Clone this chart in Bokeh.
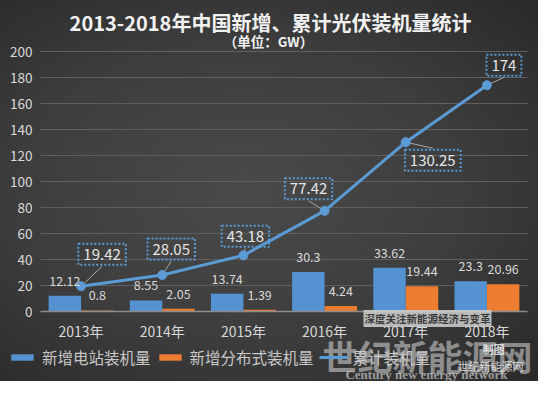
from bokeh.plotting import figure
from bokeh.models import (ColumnDataSource, LabelSet, Label, Legend, LegendItem,
                          FixedTicker, Range1d)
from bokeh.core.properties import value
from bokeh.transform import dodge
from bokeh.embed import file_html
from bokeh.resources import INLINE

# ---- data ----
years = ["2013年", "2014年", "2015年", "2016年", "2017年", "2018年"]
new_station = [12.12, 8.55, 13.74, 30.3, 33.62, 23.3]
new_distributed = [0.8, 2.05, 1.39, 4.24, 19.44, 20.96]
cumulative = [19.42, 28.05, 43.18, 77.42, 130.25, 174]
y_ticks = [0, 20, 40, 60, 80, 100, 120, 140, 160, 180, 200]

# ---- styling / layout ----
FONT = "Noto Sans CJK SC"
TXT = "#d9d9d9"
BLUE = "#5b9bd5"
BAR_BLUE = "#5592d2"
ORANGE = "#ed7d31"
W, H = 538, 381
# plot area inside the canvas (px from top-left)
PL, PR, PT, PB = 40, 527, 51, 311
cum_dx = [21, 9, 2, -16, 27, 17]
cum_dy = [32, 26, 19, 22, -18, 20]
BOX_HALF_H = 12

n = len(years)
xs = list(range(n))
x_lo, x_hi = -0.5, n - 0.5
y_lo, y_hi = y_ticks[0], y_ticks[-1]
px_x = (PR - PL) / (x_hi - x_lo)
px_y = (PB - PT) / (y_hi - y_lo)

src = ColumnDataSource(dict(
    x=xs,
    station=new_station,
    dist=new_distributed,
    cum=cumulative,
    station_txt=[f"{v:g}" for v in new_station],
    dist_txt=[f"{v:g}" for v in new_distributed],
))

p = figure(width=W, height=H,
           x_range=Range1d(x_lo - PL / px_x, x_hi + (W - PR) / px_x),
           y_range=Range1d(y_lo - (H - PB) / px_y, y_hi + PT / px_y),
           output_backend="svg", toolbar_location=None,
           min_border_left=0, min_border_right=0,
           min_border_top=0, min_border_bottom=0)
p.styles = {"background": "radial-gradient(ellipse 75% 70% at 45% 50%, #4a4a4a 0%, #3d3d3d 55%, #2a2a2a 100%)"}
p.border_fill_alpha = 0
p.background_fill_alpha = 0
p.outline_line_color = None

# axes placed inside the frame
p.yaxis.fixed_location = x_lo
p.yaxis.ticker = FixedTicker(ticks=y_ticks)
p.yaxis.axis_line_color = None
p.yaxis.major_tick_line_color = None
p.yaxis.minor_tick_line_color = None
p.yaxis.major_tick_out = 0
p.yaxis.major_tick_in = 0
p.yaxis.major_label_standoff = 8
p.yaxis.major_label_text_color = TXT
p.yaxis.major_label_text_font = FONT
p.yaxis.major_label_text_font_size = "13.5px"

p.xaxis.fixed_location = y_lo
p.xaxis.bounds = (x_lo, x_hi)
p.xaxis.ticker = FixedTicker(ticks=xs)
p.xaxis.major_label_overrides = {i: y for i, y in zip(xs, years)}
p.xaxis.axis_line_color = "#8c8c8c"
p.xaxis.axis_line_width = 1.5
p.xaxis.major_tick_line_color = None
p.xaxis.minor_tick_line_color = None
p.xaxis.major_tick_out = 0
p.xaxis.major_tick_in = 0
p.xaxis.major_label_standoff = 9
p.xaxis.major_label_text_color = TXT
p.xaxis.major_label_text_font = FONT
p.xaxis.major_label_text_font_size = "14px"

p.xgrid.grid_line_color = None
try:
    p.ygrid.cross_bounds = (x_lo, x_hi)
    p.ygrid.grid_line_color = "#5f5f5f"
except AttributeError:
    p.ygrid.grid_line_color = None
    p.segment(x0=x_lo, x1=x_hi, y0=y_ticks, y1=y_ticks, line_color="#5f5f5f")

# bars
b1 = p.vbar(x=dodge("x", -0.2, range=p.x_range), top="station", width=0.4,
            source=src, fill_color=BAR_BLUE, line_color=None)
b2 = p.vbar(x=dodge("x", 0.2, range=p.x_range), top="dist", width=0.4,
            source=src, fill_color=ORANGE, line_color=None)

for col, txt, off in (("station", "station_txt", -0.2), ("dist", "dist_txt", 0.2)):
    p.add_layout(LabelSet(x=dodge("x", off, range=p.x_range), y=col, text=txt,
                          source=src, y_offset=15, text_align="center",
                          text_baseline="middle", text_color=TXT,
                          text_font=value(FONT), text_font_size="12.5px"))

# leader lines
lx1 = [x + dx / px_x for x, dx in zip(xs, cum_dx)]
ly1 = [c + (dy - (BOX_HALF_H if dy > 0 else -BOX_HALF_H)) / px_y
       for c, dy in zip(cumulative, cum_dy)]
p.segment(x0=xs, y0=cumulative, x1=lx1, y1=ly1, line_color="#a6a6a6", line_width=1)

ln = p.line(x="x", y="cum", source=src, line_color=BLUE, line_width=3)
dots = p.scatter(x="x", y="cum", source=src, size=9, fill_color=BLUE, line_color=BLUE)

for x, c, dx, dy in zip(xs, cumulative, cum_dx, cum_dy):
    p.add_layout(Label(x=x, y=c, x_offset=dx, y_offset=dy, text=f"{c:g}",
                       text_align="center", text_baseline="middle",
                       text_color="#e6e6e6", text_font=FONT, text_font_size="15px",
                       border_line_color=BLUE, border_line_dash="2 2",
                       border_line_width=2, padding=5))

# legend
legend = Legend(items=[
    LegendItem(label="新增电站装机量", renderers=[b1]),
    LegendItem(label="新增分布式装机量", renderers=[b2]),
    LegendItem(label="累计装机量", renderers=[ln, dots]),
], location=(8, 13), orientation="horizontal")
legend.background_fill_alpha = 0
legend.border_line_color = None
legend.padding = 0
legend.margin = 0
legend.spacing = 5
legend.label_standoff = 6
legend.glyph_width = 28
legend.glyph_height = 8
legend.label_height = 20
legend.label_text_color = "#c8c8c8"
legend.label_text_font = FONT
legend.label_text_font_size = "15.5px"
p.add_layout(legend)

# titles and watermarks (screen px, origin bottom-left of canvas)
scr = dict(x_units="screen", y_units="screen", text_align="center",
           text_baseline="middle")
p.add_layout(Label(x=270, y=H - 22, text="2013-2018年中国新增、累计光伏装机量统计",
                   text_color="#f2f2f2", text_font=FONT, text_font_size="20px",
                   text_font_style="bold", **scr))
p.add_layout(Label(x=268, y=H - 40, text="（单位：GW）", text_color="#f2f2f2",
                   text_font=FONT, text_font_size="13.5px", text_font_style="bold",
                   **scr))

p.add_layout(Label(x=427, y=26, text="世纪新能源网", text_color="#e8e8e8",
                   text_alpha=0.5, text_font=FONT, text_font_size="35px",
                   text_font_style="bold", **scr))
p.add_layout(Label(x=426, y=7, text="Century new energy network",
                   text_color="#e8e8e8", text_alpha=0.6, text_font="Liberation Serif",
                   text_font_size="13px", text_font_style="bold", **scr))
p.add_layout(Label(x=427, y=63, text="深度关注新能源经济与变革", text_color="#3a3a3a",
                   text_font=FONT, text_font_size="10.5px", text_font_style="bold",
                   background_fill_color="#d0d0d0", background_fill_alpha=0.85,
                   padding=1, **scr))
p.add_layout(Label(x=493, y=33, text="制图", text_color="#f0f0f0", text_alpha=0.85,
                   text_font=FONT, text_font_size="11px", text_font_style="bold", **scr))
p.add_layout(Label(x=490, y=16, text="世纪新能源网", text_color="#f0f0f0",
                   text_alpha=0.85, text_font=FONT, text_font_size="11px", **scr))

open("out.html", "w").write(file_html(p, INLINE))
